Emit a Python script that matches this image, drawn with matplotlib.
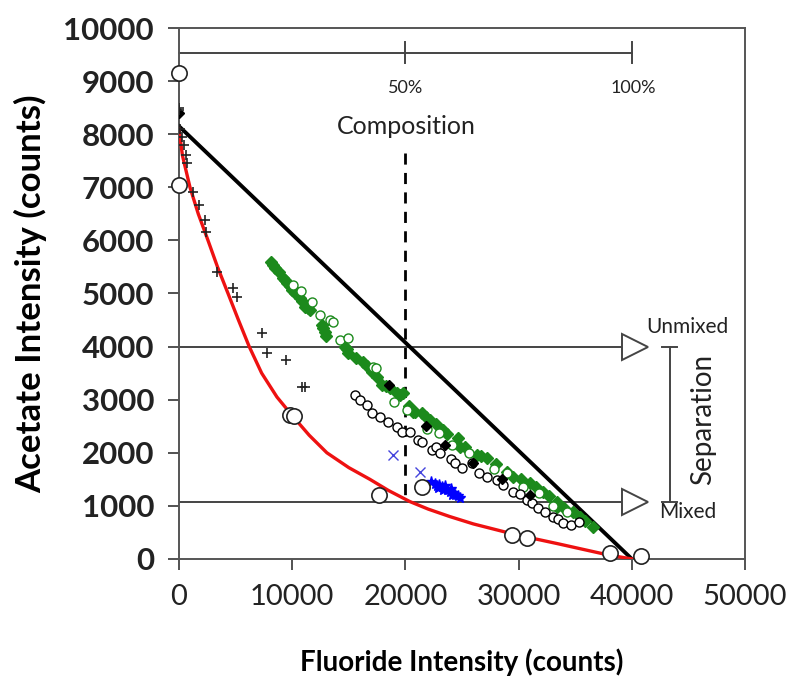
import numpy as np
import matplotlib
matplotlib.use("Agg")
from matplotlib import pyplot as plt

plt.rcParams['font.family'] = ['Lato', 'DejaVu Sans']

# Mixing curve (red) and ideal unmixed line (black)
red_x = [0, 300, 970, 1700, 2560, 3400, 4330, 5250, 6200, 7300, 8650, 10000, 11500, 13060,
         15000, 16860, 18500, 20400, 22000, 23900, 26000, 28950, 31000, 33400, 35500, 37400,
         38500, 40000]
red_y = [8100, 7600, 7000, 6500, 6000, 5500, 5000, 4500, 4000, 3500, 3050, 2700, 2330, 2000,
         1720, 1500, 1290, 1080, 940, 800, 660, 500, 400, 290, 190, 100, 55, 0]
line_x = [0, 40000]
line_y = [8150, 0]

# Open circles (calibration points)
circ_x = [0, 0, 9800, 10200, 17650, 21450, 29400, 30700, 38040, 40800]
circ_y = [9150, 7050, 2720, 2700, 1205, 1360, 450, 400, 110, 60]

# Plus markers
plus_x = [0, 0, 100, 300, 400, 600, 700, 1230, 1770, 2300, 2390, 3330, 4740, 5100,
          7330, 7770, 9450, 10860, 11130]
plus_y = [8500, 8450, 8100, 7950, 7800, 7600, 7460, 6910, 6670, 6380, 6160, 5400, 5100, 4930,
          4260, 3880, 3750, 3240, 3240]

# Green filled diamonds
gf_x = [8130, 8300, 8480, 8800, 9190, 9400, 9540, 9800, 9980, 10250, 10500, 10690, 10900,
        11130, 11350, 11570, 12630, 12750, 12900, 13000, 14660, 14800, 14930, 15600, 16250,
        16600, 17050, 17500, 17930, 18300, 18640, 19260, 19500, 19790, 20300, 20670, 20850,
        21470, 21800, 22170, 22700, 23320, 23700, 24650, 24820, 25300, 26330, 26700, 27210,
        28000, 28980, 29510, 30200, 31010, 31500, 32160, 32700, 33390, 33390, 34000, 34810,
        35420, 35900, 36570]
gf_y = [5590, 5540, 5480, 5400, 5290, 5260, 5200, 5150, 5070, 5010, 5000, 4920, 4850,
        4750, 4730, 4690, 4410, 4350, 4280, 4200, 3990, 3950, 3880, 3790, 3710,
        3640, 3520, 3420, 3280, 3260, 3220, 3130, 3090, 3130, 2880, 2770, 2770,
        2750, 2680, 2620, 2540, 2430, 2350, 2280, 2110, 2100, 1960, 1930, 1900,
        1780, 1640, 1540, 1500, 1430, 1350, 1260, 1180, 1070, 980, 960, 890,
        790, 720, 600]

# Green open markers
go_x = [10070, 10800, 11750, 12460, 13340, 13600, 14220, 14930, 17140, 17400, 19000, 20100,
        21900, 23000, 24100, 25600, 27800, 29000, 30400, 31800, 33000, 34300]
go_y = [5160, 5050, 4840, 4600, 4500, 4460, 4120, 4160, 3620, 3600, 2950, 2800,
        2450, 2380, 2150, 2000, 1700, 1620, 1350, 1250, 1000, 880]

# Black open small circles
bo_x = [15550, 15990, 16600, 17050, 17760, 18460, 19260, 19700, 20410, 21110, 21500, 22350,
        22700, 23060, 24000, 24400, 25000, 25880, 26500, 27210, 28090, 28600, 29510, 30100,
        30740, 31200, 31710, 32300, 33040, 33500, 33920, 34600, 35300]
bo_y = [3090, 2990, 2900, 2750, 2670, 2580, 2490, 2390, 2390, 2240, 2200, 2050,
        2100, 2000, 1880, 1800, 1710, 1810, 1620, 1540, 1490, 1400, 1260, 1230,
        1110, 1050, 960, 880, 790, 760, 680, 640, 700]

# Black filled markers
bf_x = [0, 18550, 21800, 23500, 26000, 28500, 31000]
bf_y = [8400, 3280, 2500, 2150, 1800, 1500, 1200]

# Blue crosses
bx_x = [18900, 21290]
bx_y = [1960, 1640]
bc_x = [22300, 22600, 22800, 23000, 23200, 23400, 23500, 23700, 23900, 24000, 24200, 24400,
        24600, 24800, 22900, 23300, 24100]
bc_y = [1450, 1420, 1380, 1400, 1350, 1320, 1380, 1300, 1270, 1320, 1240, 1200,
        1180, 1150, 1330, 1290, 1200]

unmixed_y = 4000
mixed_y = 1080

fig = plt.figure(figsize=(7.96, 6.83), dpi=100)
ax = fig.add_axes([0.2249, 0.1816, 0.7111, 0.7774])

grey = '#444444'
# reference lines
ax.plot([0, 39400], [unmixed_y, unmixed_y], color=grey, lw=1.4, zorder=1)
ax.plot([0, 39400], [mixed_y, mixed_y], color=grey, lw=1.4, zorder=1)
ax.plot([40300], [unmixed_y], marker='>', ms=19, mfc='white', mec=grey, mew=1.4, zorder=2)
ax.plot([40300], [mixed_y], marker='>', ms=19, mfc='white', mec=grey, mew=1.4, zorder=2)
ax.plot([20000, 20000], [7650, 1055], color='black', lw=2, ls=(0, (4, 3)), zorder=1)

# composition scale bar
ax.plot([0, 40000], [9530, 9530], color=grey, lw=1.4, clip_on=False)
for xt in [20000, 40000]:
    ax.plot([xt, xt], [9340, 9730], color=grey, lw=1.4)
ax.text(20050, 8870, '50%', ha='center', va='center', fontsize=13, color='#222222')
ax.text(40100, 8870, '100%', ha='center', va='center', fontsize=13, color='#222222')
ax.text(20050, 8136, 'Composition', ha='center', va='center', fontsize=18, color='#222222')

# separation bracket
ax.plot([43370, 43370], [unmixed_y, mixed_y], color=grey, lw=1.4)
ax.plot([42700, 44000], [unmixed_y, unmixed_y], color=grey, lw=1.4)
ax.plot([42700, 44000], [mixed_y, mixed_y], color=grey, lw=1.4)
ax.text(44900, 4370, 'Unmixed', ha='center', va='center', fontsize=15, color='#222222')
ax.text(44900, 890, 'Mixed', ha='center', va='center', fontsize=15, color='#222222')
ax.text(46300, 2620, 'Separation', ha='center', va='center', rotation=90, fontsize=20,
        color='#222222')

# curves
ax.plot(line_x, line_y, color='black', lw=2.8, zorder=3)
ax.plot(red_x, red_y, color='#ee1111', lw=2.4, zorder=3)

# data markers
green = '#1c8a1c'
ax.plot(gf_x, gf_y, ls='none', marker='D', ms=6.5, color=green, zorder=4)
ax.plot(go_x, go_y, ls='none', marker='o', ms=6.5, mfc='white', mec=green, mew=1, zorder=4)
ax.plot(bo_x, bo_y, ls='none', marker='o', ms=6.5, mfc='white', mec='black', mew=1, zorder=4)
ax.plot(bf_x, bf_y, ls='none', marker='D', ms=5.5, color='black', zorder=4)
ax.plot(bx_x, bx_y, ls='none', marker='x', ms=7, color='#4444dd', mew=1, zorder=4)
ax.plot(bc_x, bc_y, ls='none', marker='*', ms=8, color='#0000ff', zorder=4)
ax.plot(plus_x, plus_y, ls='none', marker='+', ms=7, color='#222222', mew=1.2, zorder=4)
ax.plot(circ_x, circ_y, ls='none', marker='o', ms=11, mfc='white', mec='#222222', mew=1.2,
        zorder=5, clip_on=False)

ax.set_xlim(0, 50000)
ax.set_ylim(0, 10000)
ax.set_xticks(np.arange(0, 50001, 10000))
ax.set_yticks(np.arange(0, 10001, 1000))
for s in ax.spines.values():
    s.set_color('#555555')
    s.set_linewidth(1.4)
ax.tick_params(direction='out', length=8, width=1.3, color='#444444', labelsize=21,
               labelcolor='#222222')
ax.tick_params(axis='y', pad=10, labelsize=22.5)
ax.tick_params(axis='x', pad=10)
for lab in ax.get_yticklabels():
    lab.set_fontweight('bold')

ax.set_xlabel('Fluoride Intensity (counts)', fontsize=20, fontweight='bold', labelpad=28)
ax.set_ylabel('Acetate Intensity (counts)', fontsize=25, fontweight='bold', labelpad=12)

fig.savefig('out.png', dpi=100)
